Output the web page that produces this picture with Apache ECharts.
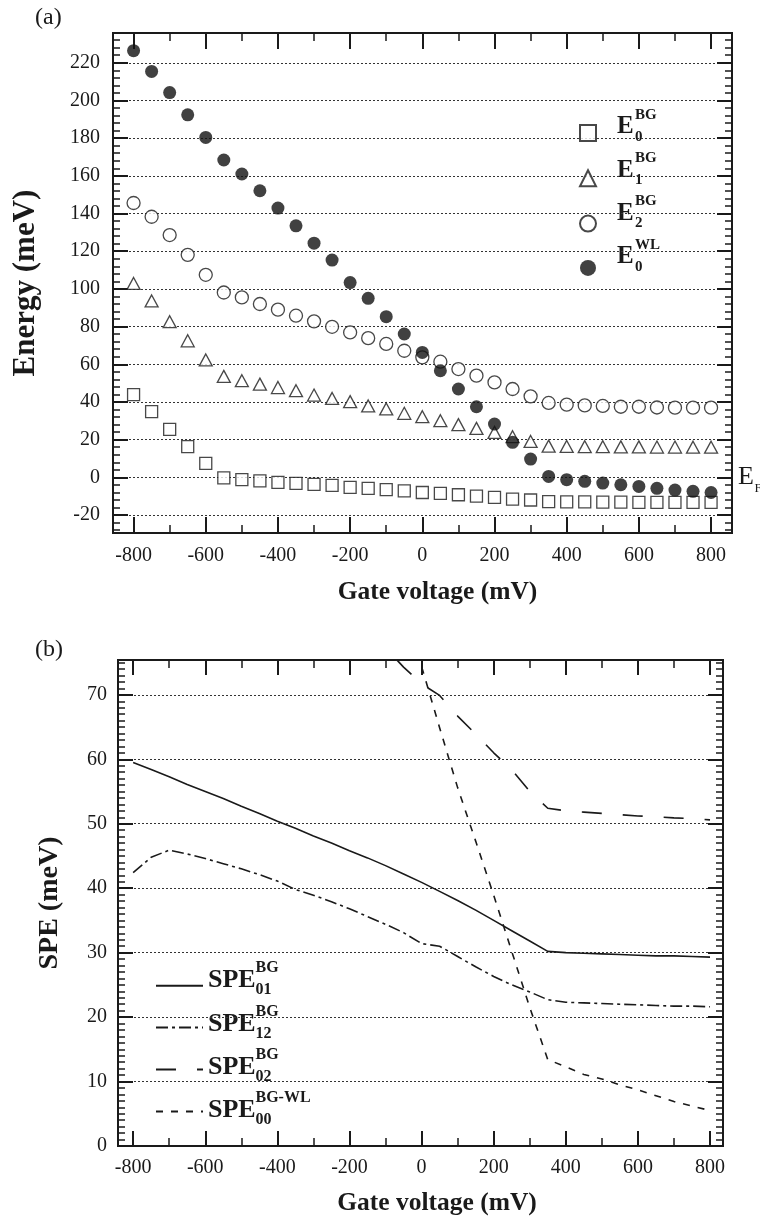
<!DOCTYPE html>
<html><head><meta charset="utf-8">
<script src="https://cdn.jsdelivr.net/npm/echarts@6/dist/echarts.min.js"></script>
<style>html,body{margin:0;padding:0;background:#fff}#c{width:760px;height:1220px}</style>
</head><body><div id="c"></div>
<script>
// ---------- data ----------
const gateV = [-800,-750,-700,-650,-600,-550,-500,-450,-400,-350,-300,-250,-200,-150,-100,-50,0,50,100,150,200,250,300,350,400,450,500,550,600,650,700,750,800];
const e0BG = [43.9,34.9,25.5,16.3,7.4,-0.3,-1.2,-1.8,-2.6,-3.2,-3.7,-4.2,-5.3,-5.8,-6.5,-7.1,-8.0,-8.5,-9.2,-9.9,-10.6,-11.5,-12.0,-12.9,-13.0,-13.0,-13.1,-13.1,-13.2,-13.2,-13.3,-13.3,-13.3];
const e1BG = [102.9,93.6,82.6,72.5,62.3,53.6,51.3,49.5,47.7,46.0,43.7,41.9,40.2,37.9,36.3,34.0,32.2,30.1,28.0,26.0,23.9,21.6,19.1,16.6,16.4,16.3,16.3,16.2,16.2,16.1,16.1,16.0,16.0];
const e2BG = [145.6,138.3,128.6,118.1,107.5,98.1,95.5,92.0,89.0,85.8,82.8,79.9,76.9,73.9,70.8,67.2,63.7,61.4,57.5,54.0,50.4,46.9,43.0,39.5,38.6,38.2,37.9,37.5,37.5,37.1,37.0,37.0,37.0];
const e0WL = [226.4,215.4,204.2,192.4,180.4,168.4,161.0,152.1,142.9,133.5,124.3,115.3,103.4,95.0,85.3,76.1,66.3,56.6,46.9,37.5,28.3,18.6,9.7,0.5,-1.2,-2.1,-3.0,-3.9,-4.8,-5.8,-6.7,-7.4,-8.0];

const spe01 = [59.5,58.4,57.3,56.1,55.0,53.9,52.7,51.6,50.4,49.3,48.1,47.0,45.8,44.7,43.5,42.2,40.9,39.5,38.1,36.6,35.0,33.4,31.8,30.2,30.0,29.9,29.8,29.7,29.6,29.5,29.5,29.4,29.3];
const spe12 = [42.4,44.8,45.9,45.3,44.6,43.8,43.0,42.1,41.1,39.8,38.9,37.9,36.8,35.6,34.4,33.1,31.4,31.0,29.4,27.8,26.3,25.0,23.9,22.7,22.3,22.2,22.1,22.0,21.9,21.8,21.7,21.7,21.6];
const spe02V = [-150,-100,-50,0,50,100,150,200,250,300,350,400,450,500,550,600,650,700,750,800];
const spe02 = [79.7,77.3,74.3,71.7,69.9,66.7,63.9,61.0,58.4,55.0,52.4,52.0,51.8,51.6,51.4,51.2,51.1,50.9,50.8,50.6];
const spe00V = [-50,0,50,100,150,200,250,300,350,400,450,500,550,600,650,700,750,800];
const spe00 = [83.2,74.4,64.9,55.6,47.3,38.9,30.2,21.5,13.4,12.3,11.1,10.4,9.5,8.7,7.8,6.9,6.2,5.5];

// ---------- tick labels ----------
const xMajor = [-800,-600,-400,-200,0,200,400,600,800];
const xMinor = [-700,-500,-300,-100,100,300,500,700];
const yMajorA = [-20,0,20,40,60,80,100,120,140,160,180,200,220];
const yMajorB = [0,10,20,30,40,50,60,70];
function steps(a,b,s){const r=[];for(let v=a;v<=b+1e-9;v+=s)r.push(Math.round(v*100)/100);return r;}
const yMinorA = steps(-28,232,4);
const yMinorB = steps(0,75,1);

// ---------- styling ----------
const SERIF = '"Liberation Serif","Times New Roman",serif';
const INK = '#1a1a1a';
const pairs = (xs, ys) => xs.map((x,i)=>[x, ys[i]]);

function ax(grid, pos, min, max, ticks, len, w, labels, margin, extra){
  return Object.assign({
    type:'value', gridIndex:grid, position:pos, min:min, max:max,
    axisLine:{show:true, onZero:false, lineStyle:{color:INK, width:2}},
    axisTick:{show:true, inside:true, length:len, lineStyle:{color:INK, width:w}, customValues:ticks},
    axisLabel: labels ? {show:true, customValues:ticks, fontFamily:SERIF, fontSize:20, color:INK, margin:margin} : {show:false},
    splitLine:{show:false}, minorTick:{show:false}
  }, extra||{});
}
const gridLine = {show:true, lineStyle:{color:'#333', width:1, type:[2,2]}};
const titleStyle = (size, pad) => ({fontFamily:SERIF, fontSize:size, fontWeight:'bold', color:INK, padding:pad});

const XA=[-857,858], YA=[-29.5,235.8], XB=[-842,836], YB=[0,75.4];

const xAxes = [
  ax(0,'bottom',XA[0],XA[1],xMajor,16,2,true,13,{name:'Gate voltage (mV)',nameLocation:'middle',nameGap:46,nameTextStyle:titleStyle(25.5,[0,0,0,30])}),
  ax(0,'bottom',XA[0],XA[1],xMinor,8,1.5,false),
  ax(0,'top',XA[0],XA[1],xMajor,16,2,false),
  ax(0,'top',XA[0],XA[1],xMinor,8,1.5,false),
  ax(1,'bottom',XB[0],XB[1],xMajor,15,2,true,12,{name:'Gate voltage (mV)',nameLocation:'middle',nameGap:44,nameTextStyle:titleStyle(25.5,[0,0,0,33])}),
  ax(1,'bottom',XB[0],XB[1],xMinor,8,1.5,false),
  ax(1,'top',XB[0],XB[1],xMajor,15,2,false),
  ax(1,'top',XB[0],XB[1],xMinor,8,1.5,false)
];
const yAxes = [
  ax(0,'left',YA[0],YA[1],yMajorA,15,2,true,13,{splitLine:gridLine,name:'Energy (meV)',nameLocation:'middle',nameRotate:90,nameGap:72,nameTextStyle:titleStyle(31,0)}),
  ax(0,'left',YA[0],YA[1],yMinorA,7,1.5,false),
  ax(0,'right',YA[0],YA[1],yMajorA,15,2,false),
  ax(0,'right',YA[0],YA[1],yMinorA,7,1.5,false),
  ax(1,'left',YB[0],YB[1],yMajorB,15,2,true,11,{splitLine:gridLine,name:'SPE (meV)',nameLocation:'middle',nameRotate:90,nameGap:54,nameTextStyle:titleStyle(28,0)}),
  ax(1,'left',YB[0],YB[1],yMinorB,7,1.5,false),
  ax(1,'right',YB[0],YB[1],yMajorB,15,2,false),
  ax(1,'right',YB[0],YB[1],yMinorB,7,1.5,false)
];

const open = {color:'#fff', borderColor:INK, borderWidth:1.3};
const series = [
  {name:'E0BG', type:'scatter', xAxisIndex:0, yAxisIndex:0, symbol:'rect', symbolSize:12, itemStyle:open, data:pairs(gateV,e0BG)},
  {name:'E1BG', type:'scatter', xAxisIndex:0, yAxisIndex:0, symbol:'triangle', symbolSize:[13,12], itemStyle:open, data:pairs(gateV,e1BG)},
  {name:'E2BG', type:'scatter', xAxisIndex:0, yAxisIndex:0, symbol:'circle', symbolSize:13, itemStyle:open, data:pairs(gateV,e2BG)},
  {name:'E0WL', type:'scatter', xAxisIndex:0, yAxisIndex:0, symbol:'circle', symbolSize:13, itemStyle:{color:'#111'}, data:pairs(gateV,e0WL)},
  {name:'SPE01', type:'line', xAxisIndex:4, yAxisIndex:4, symbol:'none', lineStyle:{color:INK,width:1.6,type:'solid'}, itemStyle:{color:INK}, data:pairs(gateV,spe01)},
  {name:'SPE12', type:'line', xAxisIndex:4, yAxisIndex:4, symbol:'none', lineStyle:{color:INK,width:1.6,type:[12,4,3,4]}, itemStyle:{color:INK}, data:pairs(gateV,spe12)},
  {name:'SPE02', type:'line', xAxisIndex:4, yAxisIndex:4, symbol:'none', lineStyle:{color:INK,width:1.6,type:[20,21]}, itemStyle:{color:INK}, data:pairs(spe02V,spe02)},
  {name:'SPE00', type:'line', xAxisIndex:4, yAxisIndex:4, symbol:'none', lineStyle:{color:INK,width:1.6,type:[7,8]}, itemStyle:{color:INK}, data:pairs(spe00V,spe00)}
];

// ---------- legend labels (E / SPE with stacked super- and subscripts) ----------
const topLegY = [127,170.3,213.6,257];
const topSup = ['BG','BG','BG','WL'], topSub = ['0','1','2','0'];
const botLegY = [980.7,1024,1067.3,1110.6];
const botSup = ['BG','BG','BG','BG-WL'], botSub = ['01','12','02','00'];
function txt(x,y,text,size,bold,align){
  return {type:'text', x:x, y:y, silent:true, style:{text:text, fill:INK, font:(bold?'bold ':'')+size+'px '+SERIF, align:align||'left', verticalAlign:'middle'}};
}
const graphics = [];
topLegY.forEach((y,i)=>{graphics.push(txt(617,y,'E',25,true)); graphics.push(txt(635,y-12,topSup[i],15,true)); graphics.push(txt(635,y+10,topSub[i],15,true));});
botLegY.forEach((y,i)=>{graphics.push(txt(208,y,'SPE',26,true)); graphics.push(txt(255.5,y-12.5,botSup[i],16,true)); graphics.push(txt(255.5,y+9.5,botSub[i],16,true));});
graphics.push(txt(35,18,'(a)',24,false));
graphics.push(txt(35,650,'(b)',24,false));
graphics.push(txt(738,477,'E',26,false));
graphics.push(txt(754.5,489,'F',13,false));

const chart = echarts.init(document.getElementById('c'), null, {renderer:'canvas'});
chart.setOption({
  animation:false,
  backgroundColor:'#fff',
  grid:[{left:113, top:33, width:619, height:500},{left:118, top:660, width:605, height:486}],
  xAxis:xAxes, yAxis:yAxes,
  legend:[
    {data:['E0BG','E1BG','E2BG','E0WL'], orient:'vertical', left:574, top:119, itemWidth:16, itemHeight:16, itemGap:27.3, formatter:()=>'', textStyle:{fontSize:2}, selectedMode:false},
    {data:['SPE01','SPE12','SPE02','SPE00'], orient:'vertical', left:150, top:973.7, itemWidth:47, itemHeight:14, itemGap:29.3, formatter:()=>'', textStyle:{fontSize:2}, selectedMode:false,
     itemStyle:{color:'rgba(0,0,0,0)', borderWidth:0, opacity:0}}
  ],
  graphic:graphics,
  series:series
});
</script></body></html>
